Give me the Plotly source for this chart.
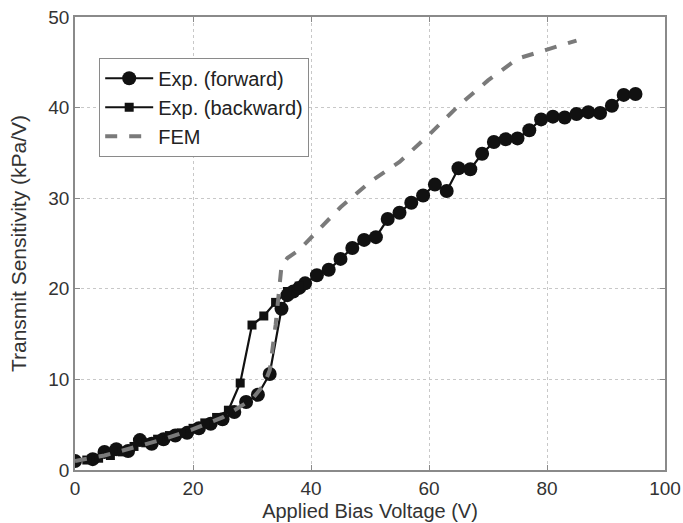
import plotly.graph_objects as go

fwd_v = [0, 3, 5, 7, 9, 11, 13, 15, 17, 19, 21, 23, 25, 27, 29, 31, 33, 35, 36, 37, 38, 39,
         41, 43, 45, 47, 49, 51, 53, 55, 57, 59, 61, 63, 65, 67, 69, 71, 73, 75, 77, 79,
         81, 83, 85, 87, 89, 91, 93, 95]
fwd_s = [1.0, 1.2, 2.0, 2.3, 2.1, 3.3, 2.9, 3.4, 3.8, 4.1, 4.6, 5.1, 5.6, 6.4, 7.5, 8.3, 10.6,
         17.8, 19.3, 19.7, 20.1, 20.6, 21.5, 22.1, 23.3, 24.5, 25.4, 25.7, 27.7, 28.4, 29.5,
         30.3, 31.5, 30.8, 33.3, 33.2, 34.9, 36.2, 36.5, 36.6, 37.5, 38.7, 39.0, 38.9, 39.3,
         39.5, 39.4, 40.2, 41.4, 41.5]

bwd_v = [0, 2, 4, 6, 8, 10, 12, 14, 16, 18, 20, 22, 24, 26, 28, 30, 32, 34, 36, 38]
bwd_s = [1.0, 1.1, 1.3, 1.6, 2.0, 2.6, 3.0, 3.4, 3.8, 4.1, 4.6, 5.2, 5.8, 6.6, 9.6, 16.0,
         17.0, 18.5, 19.7, 20.3]

fem_v = [0, 5, 10, 15, 20, 25, 30, 32, 33, 34, 35, 36, 38, 40, 45, 50, 55, 60, 65, 70, 75, 80, 85]
fem_s = [1.0, 1.6, 2.5, 3.4, 4.5, 5.8, 7.8, 9.4, 11.0, 16.0, 22.5, 23.4, 24.3, 25.6, 29.0,
         31.8, 34.0, 37.0, 40.2, 43.0, 45.4, 46.4, 47.4]

x_ticks = [0, 20, 40, 60, 80, 100]
y_ticks = [0, 10, 20, 30, 40, 50]

fig = go.Figure()
fig.add_trace(go.Scatter(x=fwd_v, y=fwd_s, mode="lines+markers", name="Exp. (forward)",
                         line=dict(color="#111111", width=2.2),
                         marker=dict(symbol="circle", size=14, color="#111111")))
fig.add_trace(go.Scatter(x=bwd_v, y=bwd_s, mode="lines+markers", name="Exp. (backward)",
                         line=dict(color="#111111", width=2.2),
                         marker=dict(symbol="square", size=9, color="#111111")))
fig.add_trace(go.Scatter(x=fem_v, y=fem_s, mode="lines", name="FEM",
                         line=dict(color="#7a7a7a", width=4, dash="dash")))

axis_common = dict(showline=True, linecolor="#8a8a8a", linewidth=1.5, mirror="ticks",
                   ticks="inside", ticklen=5, tickcolor="#8a8a8a", automargin=False,
                   showgrid=True, gridcolor="#c8c8c8", griddash="dot", gridwidth=1,
                   zeroline=False, tickfont=dict(size=19, color="#333333"))

fig.update_layout(
    width=683, height=523,
    margin=dict(l=75, r=18, t=17, b=53),
    paper_bgcolor="white", plot_bgcolor="white",
    font=dict(family="Arial, Liberation Sans, sans-serif", color="#333333"),
    xaxis=dict(range=[0, 100], tickvals=x_ticks, title=dict(text="Applied Bias Voltage (V)",
               font=dict(size=20), standoff=6), **axis_common),
    yaxis=dict(range=[0, 50], tickvals=y_ticks, title=dict(text="Transmit Sensitivity (kPa/V)",
               font=dict(size=21), standoff=16), **axis_common),
    legend=dict(x=0.041, y=0.91, xanchor="left", yanchor="top",
                bordercolor="#8a8a8a", borderwidth=1, bgcolor="white",
                font=dict(size=20, color="#222222"), itemwidth=48, tracegroupgap=0),
    showlegend=True,
)

fig.write_html("out.html")
